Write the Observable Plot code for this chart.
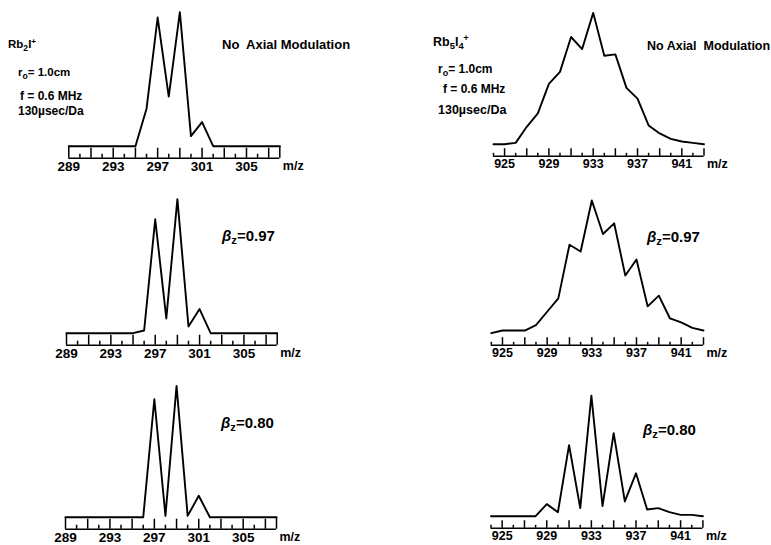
<!DOCTYPE html>
<html>
<head>
<meta charset="utf-8">
<script src="https://cdn.jsdelivr.net/npm/d3@7"></script>
<script src="https://cdn.jsdelivr.net/npm/@observablehq/plot@0.6"></script>
<style>
  body { margin: 0; background: #fff; }
  #fig { position: relative; width: 771px; height: 545px; overflow: hidden; background: #fff;
         font-family: "Liberation Sans", Arial, sans-serif; font-weight: bold; color: #000; }
  .p { position: absolute; }
  .t { position: absolute; white-space: nowrap; font-weight: bold; line-height: 1; }
  .t sub { font-size: 0.75em; vertical-align: -0.3em; line-height: 0; }
  .t sup { font-size: 0.7em; vertical-align: 0.55em; line-height: 0; }
</style>
</head>
<body>
<div id="fig"></div>
<script>
// ---- data: m/z axis values and relative intensities ----
const mzRb2I = [289, 290, 291, 292, 293, 294, 295, 296, 297, 298, 299, 300, 301, 302, 303, 304, 305, 306, 307, 308];
const rb2iNoMod   = [0, 0, 0, 0, 0, 0, 0, 28, 96, 37, 100, 7.5, 18, 0, 0, 0, 0, 0, 0, 0];
const rb2iBeta097 = [0, 0, 0, 0, 0, 0, 0, 2, 85, 11, 100, 5, 18, 0, 0, 0, 0, 0, 0, 0];
const rb2iBeta080 = [0, 0, 0, 0, 0, 0, 0, 0, 88, 1, 98, 1, 16, 0, 0, 0, 0, 0, 0, 0];

const mzRb5I4 = [924, 925, 926, 927, 928, 929, 930, 931, 932, 933, 934, 935, 936, 937, 938, 939, 940, 941, 942, 943];
const rb5i4NoMod   = [0, 0, 1, 13, 23, 45, 54, 80, 71, 98, 66, 67, 42, 34, 14, 8, 4, 2, 1, 0];
const rb5i4Beta097 = [0, 2, 2, 2, 6, 16, 26, 66, 61, 99, 74, 82, 43, 55, 20, 28, 11, 8, 4, 2];
const rb5i4Beta080 = [0, 0, 0, 0, 0, 9, 3, 53, 6, 90, 7.5, 62, 11, 32, 5, 6, 3, 1, 1, 0];

const tickLabelsRb2I = [289, 293, 297, 301, 305];
const tickLabelsRb5I4 = [925, 929, 933, 937, 941];
const axisUnit = "m/z";

// ---- layout ----
const fig = document.getElementById("fig");
const PX_PER_UNIT = 1.34;           // vertical pixels per intensity unit
const RULER = -9;                   // ruler bottom line (intensity units)
const Y_TOP = 105;
const MT = 5;
const FRAME_H = (Y_TOP - RULER) * PX_PER_UNIT;
const H = 183;
const MB = H - MT - FRAME_H;

function panel(mz, vals, tickLabels, o) {
  const data = mz.map((m, i) => ({mz: m, v: vals[i]}));
  const first = mz[0], last = mz[mz.length - 1];
  const tickTop = (m) => {
    if (o.side === "L" && (m === first || m === last)) return 0;
    const odd = Math.abs(m % 2) === 1;
    if (o.side === "L") return odd ? -1.5 : -6;
    return (odd || m === last) ? -3.4 : -6.8;
  };
  const svg = Plot.plot({
    width: o.w, height: H,
    marginLeft: o.ml, marginRight: o.mr, marginTop: MT, marginBottom: MB,
    x: {domain: [first, last], label: null},
    y: {domain: [RULER, Y_TOP], axis: null},
    style: {background: "transparent", fontFamily: "'Liberation Sans', Arial, sans-serif", fontWeight: "bold", color: "#000"},
    marks: [
      Plot.ruleY([RULER], {x1: first, x2: last, stroke: "#000", strokeWidth: 1.6}),
      Plot.ruleX(mz, {x: d => d, y1: RULER, y2: tickTop, stroke: "#000", strokeWidth: 1.5}),
      Plot.line(data, {x: "mz", y: "v", stroke: "#000", strokeWidth: 1.9}),
      Plot.axisX(tickLabels, {tickSize: 0, tickPadding: 3, label: null, fontSize: o.fs, fontWeight: "bold", fill: "#000"}),
      Plot.text([axisUnit], {x: last, y: RULER, dx: 3, dy: 3, textAnchor: "start", lineAnchor: "top", fontSize: 12.5, fontWeight: "bold", fill: "#000"})
    ]
  });
  const div = document.createElement("div");
  div.className = "p";
  div.style.left = o.left + "px";
  div.style.top = (o.baseline + (-RULER) * PX_PER_UNIT - (MT + FRAME_H)) + "px";
  div.appendChild(svg);
  fig.appendChild(div);
}

// left column (Rb2I+), svg spans x 0..385
const L = (x0, x1, baseline) => ({side: "L", left: 0, w: 385, ml: x0, mr: 385 - x1, baseline, fs: 13.5});
// right column (Rb5I4+), svg spans x 385..771
const R = (x0, x1, baseline) => ({side: "R", left: 385, w: 386, ml: x0 - 385, mr: 771 - x1, baseline, fs: 12.5});

panel(mzRb2I, rb2iNoMod,   tickLabelsRb2I, L(68.3, 279.3, 146));
panel(mzRb2I, rb2iBeta097, tickLabelsRb2I, L(66, 276.7, 332.7));
panel(mzRb2I, rb2iBeta080, tickLabelsRb2I, L(65, 276, 516.7));
panel(mzRb5I4, rb5i4NoMod,   tickLabelsRb5I4, R(493, 703.5, 144));
panel(mzRb5I4, rb5i4Beta097, tickLabelsRb5I4, R(490.8, 703, 333));
panel(mzRb5I4, rb5i4Beta080, tickLabelsRb5I4, R(490.5, 702.4, 515.7));

// ---- annotations ----
const notes = [
  {x: 8,   base: 49,  fs: 11.5, html: "Rb<sub>2</sub>I<sup>+</sup>"},
  {x: 18,  base: 77,  fs: 11.5, html: "r<sub>o</sub>= 1.0cm"},
  {x: 20,  base: 100, fs: 12,   html: "f = 0.6 MHz"},
  {x: 18,  base: 115, fs: 12,   html: "130µsec/Da"},
  {x: 222, base: 49,  fs: 13,   html: "No&nbsp; Axial Modulation"},
  {x: 433, base: 46,  fs: 12.5, html: "Rb<sub>5</sub>I<sub>4</sub><sup>+</sup>"},
  {x: 438, base: 73,  fs: 12,   html: "r<sub>o</sub>= 1.0cm"},
  {x: 443, base: 93,  fs: 12,   html: "f = 0.6 MHz"},
  {x: 438, base: 114, fs: 12.5, html: "130µsec/Da"},
  {x: 647, base: 50,  fs: 12.5, html: "No Axial&nbsp; Modulation"},
  {x: 222, base: 240, fs: 15,   html: "<i>β</i><sub>z</sub>=0.97"},
  {x: 647, base: 241, fs: 15,   html: "<i>β</i><sub>z</sub>=0.97"},
  {x: 221, base: 427, fs: 15,   html: "<i>β</i><sub>z</sub>=0.80"},
  {x: 643, base: 434, fs: 15,   html: "<i>β</i><sub>z</sub>=0.80"}
];
for (const n of notes) {
  const d = document.createElement("div");
  d.className = "t";
  d.style.left = n.x + "px";
  d.style.top = (n.base - 0.83 * n.fs) + "px";
  d.style.fontSize = n.fs + "px";
  d.innerHTML = n.html;
  fig.appendChild(d);
}
</script>
</body>
</html>
